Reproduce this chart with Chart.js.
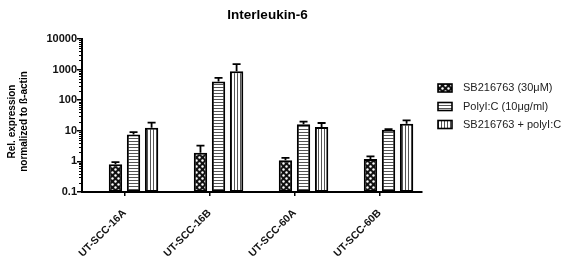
<!DOCTYPE html>
<html><head><meta charset="utf-8">
<script src="https://cdn.jsdelivr.net/npm/chart.js@4.4.1/dist/chart.umd.min.js"></script>
<style>html,body{margin:0;padding:0;background:#fff}#wrap{width:561px;height:264px;position:relative}</style>
</head><body><div id="wrap"><canvas id="c" width="561" height="264"></canvas></div>
<script>
const categories = ['UT-SCC-16A','UT-SCC-16B','UT-SCC-60A','UT-SCC-60B'];
const seriesNames = ['SB216763 (30\u03bcM)','PolyI:C (10\u03bcg/ml)','SB216763 + polyI:C'];
const sbValues = [0.8, 1.9, 1.1, 1.2];
const sbErrors = [0.15, 1.4, 0.2, 0.26];
const polyValues = [7.6, 410, 16.5, 10.8];
const polyErrors = [1.4, 130, 3.5, 0.6];
const comboValues = [12.6, 890, 13.3, 17];
const comboErrors = [5.8, 620, 4.7, 4.9];
const yTickValues = [0.1, 1, 10, 100, 1000, 10000];
const titleText = 'Interleukin-6';
const yTitleLines = ['Rel. expression','normalized to \u00df-actin'];

const FONT = '"Liberation Sans", Arial, sans-serif';

function makePattern(kind){
  const c = document.createElement('canvas');
  let ctx;
  if (kind === 'dots') {
    c.width = 6; c.height = 6; ctx = c.getContext('2d');
    ctx.fillStyle = '#111'; ctx.fillRect(0,0,6,6);
    ctx.fillStyle = '#fff';
    ctx.beginPath(); ctx.arc(1.5,1.5,1.2,0,Math.PI*2); ctx.fill();
    ctx.beginPath(); ctx.arc(4.5,4.5,1.2,0,Math.PI*2); ctx.fill();
  } else if (kind === 'hlines') {
    c.width = 3; c.height = 3; ctx = c.getContext('2d');
    ctx.fillStyle = '#fff'; ctx.fillRect(0,0,3,3);
    ctx.fillStyle = '#555'; ctx.fillRect(0,0,3,1);
  } else {
    c.width = 3; c.height = 3; ctx = c.getContext('2d');
    ctx.fillStyle = '#fff'; ctx.fillRect(0,0,3,3);
    ctx.fillStyle = '#555'; ctx.fillRect(0,0,1,3);
  }
  return document.getElementById('c').getContext('2d').createPattern(c,'repeat');
}
const patterns = [makePattern('dots'), makePattern('hlines'), makePattern('vlines')];
const seriesValues = [sbValues, polyValues, comboValues];
const seriesErrors = [sbErrors, polyErrors, comboErrors];

const datasets = [{label:'_spacer', data: categories.map(()=>null), backgroundColor:'rgba(0,0,0,0)', borderWidth:0}];
seriesNames.forEach((n,i)=>{
  datasets.push({label:n, data:seriesValues[i], backgroundColor:patterns[i], borderColor:'#000', borderWidth:2, borderSkipped:false,
    categoryPercentage:0.85, barPercentage:0.74});
});
datasets[0].categoryPercentage = 0.85; datasets[0].barPercentage = 0.74;

const extras = {
  id:'extras',
  afterDatasetsDraw(chart){
    const ctx = chart.ctx, y = chart.scales.y;
    ctx.save();
    ctx.strokeStyle = '#000'; ctx.lineWidth = 1.8;
    for (let d=1; d<=3; d++){
      const meta = chart.getDatasetMeta(d);
      meta.data.forEach((bar,i)=>{
        const v = seriesValues[d-1][i], e = seriesErrors[d-1][i];
        const yt = y.getPixelForValue(v+e);
        ctx.beginPath();
        ctx.moveTo(bar.x, bar.y); ctx.lineTo(bar.x, yt);
        ctx.moveTo(bar.x-4, yt); ctx.lineTo(bar.x+4, yt);
        ctx.stroke();
      });
    }
    // minor ticks
    const left = chart.chartArea.left;
    ctx.lineWidth = 1;
    for (let k=0; k<yTickValues.length-1; k++){
      for (let m=2; m<=9; m++){
        const py = Math.round(y.getPixelForValue(yTickValues[k]*m))+0.5;
        ctx.beginPath(); ctx.moveTo(left-3, py); ctx.lineTo(left, py); ctx.stroke();
      }
    }
    ctx.restore();
  },
  afterDraw(chart){
    const ctx = chart.ctx;
    ctx.save();
    ctx.fillStyle = '#000';
    ctx.font = 'bold 13.5px ' + FONT;
    ctx.textAlign = 'center'; ctx.textBaseline = 'middle';
    ctx.fillText(titleText, 267.5, 15);
    // y title
    ctx.font = 'bold 10px ' + FONT;
    ctx.translate(0, 121.5);
    ctx.rotate(-Math.PI/2);
    ctx.fillText(yTitleLines[0], 0, 12);
    ctx.fillText(yTitleLines[1], 0, 24);
    ctx.restore();
    // legend
    ctx.save();
    const ys = [88, 106.5, 124.5];
    ctx.font = '11px ' + FONT;
    ctx.textBaseline = 'middle'; ctx.textAlign = 'left';
    seriesNames.forEach((n,i)=>{
      ctx.fillStyle = patterns[i];
      ctx.fillRect(438, ys[i]-4, 14, 8);
      ctx.strokeStyle = '#000'; ctx.lineWidth = 1.6;
      ctx.strokeRect(438, ys[i]-4, 14, 8);
      ctx.fillStyle = '#222';
      ctx.fillText(n, 463, ys[i]);
    });
    ctx.restore();
  }
};

new Chart(document.getElementById('c'), {
  type:'bar',
  data:{labels:categories, datasets},
  options:{
    responsive:false, animation:false,
    layout:{padding:{top:39, right:139, left:0, bottom:0}},
    plugins:{legend:{display:false}, tooltip:{enabled:false}, title:{display:false}},
    scales:{
      x:{
        grid:{display:true, drawOnChartArea:false, offset:false, tickLength:4, color:'#000', lineWidth:1.5},
        border:{display:true, color:'#000', width:2},
        ticks:{color:'#111', font:{family:FONT, size:10.5, weight:'bold'}, minRotation:45, maxRotation:45, padding:11},
        afterFit(s){ s.height = 72; }
      },
      y:{
        type:'logarithmic', min:0.1, max:10000,
        afterBuildTicks(s){ s.ticks = yTickValues.map(v=>({value:v})); },
        grid:{display:true, drawOnChartArea:false, tickLength:5, color:'#000', lineWidth:1.5},
        border:{display:true, color:'#000', width:2},
        ticks:{color:'#111', font:{family:FONT, size:11, weight:'bold'}, padding:0, autoSkip:false,
          callback:(v)=> String(v)},
        afterFit(s){ s.width = 82; }
      }
    }
  },
  plugins:[extras]
});
</script>
</body></html>
